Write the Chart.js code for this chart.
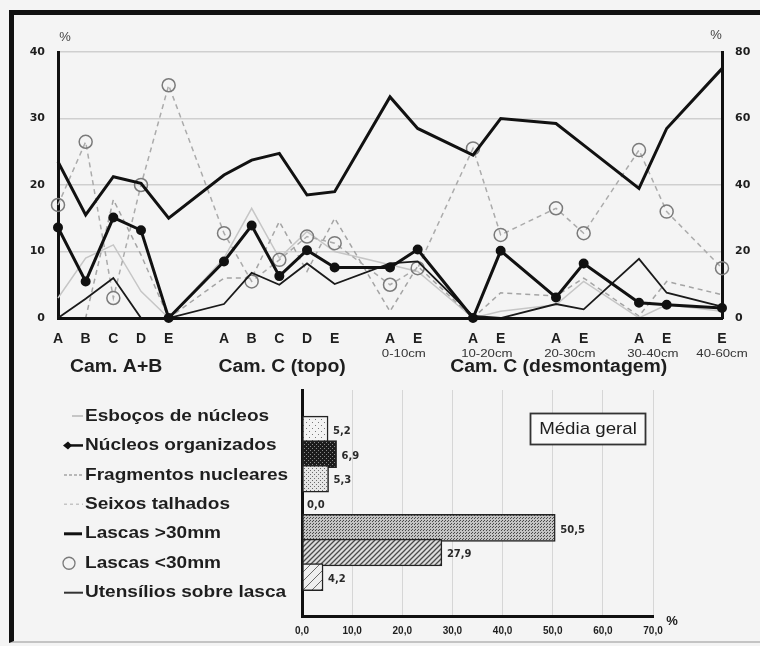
<!DOCTYPE html>
<html><head><meta charset="utf-8">
<script src="https://cdn.jsdelivr.net/npm/chart.js@4.4.1/dist/chart.umd.min.js"></script>
<style>
html,body{margin:0;padding:0;background:#f4f4f4;width:760px;height:646px;overflow:hidden;}
#frame{position:absolute;left:9px;top:10px;width:800px;height:626px;border-left:5px solid #111;border-top:5px solid #111;border-bottom:2px solid #c4c4c4;}
#c1{position:absolute;left:0;top:0;}
#c2{position:absolute;left:0;top:380px;}
</style></head><body>
<div id="frame"></div>
<canvas id="c1" width="760" height="380"></canvas>
<canvas id="c2" width="760" height="266"></canvas>
<script>
// ---------- data ----------
const categories = ['A','B','C','D','E','', 'A','B','C','D','E','', 'A','E','', 'A','E','', 'A','E','', 'A','E','', 'E'];
const groupLabels = ['Cam. A+B','Cam. C (topo)','Cam. C (desmontagem)'];
const groupPositions = [2.1, 8.1, 18.1];
const depthLabels = ['0-10cm','10-20cm','20-30cm','30-40cm','40-60cm'];
const depthPositions = [12.5, 15.5, 18.5, 21.5, 24];
const seriesNames = ['Esboços de núcleos','Núcleos organizados','Fragmentos nucleares','Seixos talhados','Lascas >30mm','Lascas <30mm','Utensílios sobre lasca'];
const esbocos    = [3, 9, 11, 4, 0, null, 9, 16.5, 9, 13, 10, null, 8, 7, null, 0, 1, null, 2, 5.5, null, 0, 2, null, 1];
const nucleos    = [13.6, 5.5, 15.1, 13.2, 0, null, 8.5, 13.9, 6.3, 10.2, 7.6, null, 7.6, 10.3, null, 0, 10.1, null, 3.1, 8.2, null, 2.3, 2.0, null, 1.5];
const fragmentos = [0, 0, 17.8, 9.5, 0, null, 6, 6, 14.5, 7, 15, null, 1, 7.8, null, 0, 3.8, null, 3.3, 6, null, 0.3, 5.5, null, 3.5];
const seixos     = [0, 0, 0, 0, 0, null, 0, 0, 0, 0, 0, null, 0, 0, null, 0, 0, null, 0, 0, null, 0, 0, null, 0];
const lascasMaior= [47, 31, 42.5, 40.5, 30, null, 43, 47.5, 49.5, 37, 38, null, 66.5, 57, null, 49, 60, null, 58.5, 52, null, 39, 57, null, 75];
const lascasMenor= [34, 53, 6, 40, 70, null, 25.5, 11, 17.5, 24.5, 22.5, null, 10, 15, null, 51, 25, null, 33, 25.5, null, 50.5, 32, null, 15];
const utensilios = [0, 2.9, 6.0, 0, 0, null, 2.1, 6.8, 5.0, 8.2, 5.1, null, 8.2, 8.5, null, 0.3, 0, null, 2.1, 1.3, null, 8.9, 3.8, null, 1.7];
const mediaGeral = [5.2, 6.9, 5.3, 0.0, 50.5, 27.9, 4.2];
const barTickLabels = ['0,0','10,0','20,0','30,0','40,0','50,0','60,0','70,0'];
const boxLabel = 'Média geral';

// ---------- helpers ----------
const SANS = '"Liberation Sans", Arial, sans-serif';
Chart.defaults.font.family = SANS;
function sText(ctx, t, x, y, sx, align){
  ctx.save(); ctx.translate(x, y); ctx.scale(sx, 1); ctx.textAlign = align; ctx.fillText(t, 0, 0); ctx.restore();
}
function makePattern(w, h, draw){
  const c = document.createElement('canvas'); c.width = w; c.height = h;
  const g = c.getContext('2d'); draw(g, w, h);
  return g.createPattern(c, 'repeat');
}
function dots(bg, fg, pts){ return (g,w,h)=>{ g.fillStyle=bg; g.fillRect(0,0,w,h); g.fillStyle=fg; pts.forEach(p=>g.fillRect(p[0],p[1],1,1)); }; }
function hatch(bg, fg, lw){ return (g,w,h)=>{ g.fillStyle=bg; g.fillRect(0,0,w,h); g.strokeStyle=fg; g.lineWidth=lw;
  g.beginPath(); g.moveTo(0,h); g.lineTo(w,0); g.moveTo(-1,1); g.lineTo(1,-1); g.moveTo(w-1,h+1); g.lineTo(w+1,h-1); g.stroke(); }; }

const barFills = [
  makePattern(6,6,dots('#f3f3f3','#7a7a7a',[[0,0],[3,3]])),
  makePattern(4,4,dots('#1c1c1c','#8a8a8a',[[0,0],[2,2]])),
  makePattern(4,4,dots('#e6e6e6','#6a6a6a',[[0,0],[2,2]])),
  'rgba(0,0,0,0)',
  makePattern(3,3,dots('#c4c4c4','#4a4a4a',[[0,0],[1,2]])),
  makePattern(5,5,hatch('#dcdcdc','#4a4a4a',1.3)),
  makePattern(9,9,hatch('#efefef','#6a6a6a',1))
];

// ---------- line chart ----------
const lineStyles = [
  {data: esbocos,    borderColor:'#c6c6c6', borderWidth:1.5, order:5},
  {data: nucleos,    borderColor:'#111', borderWidth:3, pointRadius:3.5, pointBackgroundColor:'#111', pointBorderColor:'#111', order:0},
  {data: fragmentos, borderColor:'#a4a4a4', borderWidth:1.5, borderDash:[5,4], order:4},
  {data: seixos,     borderColor:'#cccccc', borderWidth:1.5, borderDash:[4,4], order:6},
  {data: lascasMaior,borderColor:'#111', borderWidth:3, yAxisID:'y2', order:1},
  {data: lascasMenor,borderColor:'#ababab', borderWidth:1.5, borderDash:[5,4], yAxisID:'y2', pointRadius:6.5, pointBorderColor:'#7a7a7a', pointBorderWidth:1.5, pointBackgroundColor:'rgba(0,0,0,0)', order:3},
  {data: utensilios, borderColor:'#1a1a1a', borderWidth:1.8, order:2}
];
const lineDatasets = lineStyles.map((s,i)=>Object.assign({label: seriesNames[i], tension:0, spanGaps:true, pointRadius:0, clip:false, yAxisID:'y'}, s));

const lineText = {
  id:'lineText',
  afterDraw(chart){
    const ctx = chart.ctx, x = chart.scales.x, a = chart.chartArea;
    ctx.save();
    ctx.textBaseline = 'middle';
    ctx.fillStyle = '#1e1e1e';
    ctx.font = 'bold 18px ' + SANS;
    groupLabels.forEach((t,i)=>sText(ctx, t, x.getPixelForValue(groupPositions[i]), 367, 1.08, 'center'));
    ctx.fillStyle = '#333';
    ctx.font = '11px ' + SANS;
    depthLabels.forEach((t,i)=>sText(ctx, t, x.getPixelForValue(depthPositions[i]), 354, 1.2, 'center'));
    ctx.fillStyle = '#444';
    ctx.font = '13px ' + SANS;
    sText(ctx, '%', a.left + 7, 37, 1, 'center');
    sText(ctx, '%', a.right - 6, 35, 1, 'center');
    ctx.restore();
  }
};

new Chart(document.getElementById('c1'), {
  type:'line',
  data:{labels: categories, datasets: lineDatasets},
  options:{
    responsive:false, animation:false, devicePixelRatio:1,
    layout:{padding:{top:52,left:0,right:0,bottom:0}},
    plugins:{legend:{display:false}, tooltip:{enabled:false}},
    scales:{
      x:{type:'category', offset:false,
         grid:{display:false, drawTicks:false},
         border:{color:'#111', width:3, z:1},
         ticks:{autoSkip:false, maxRotation:0, padding:13, color:'#1e1e1e', font:{size:14, weight:'bold'}},
         afterFit(s){ s.height = 62; }},
      y:{position:'left', min:0, max:40,
         grid:{color:'#cfcfcf', lineWidth:1.5, drawTicks:false},
         border:{color:'#111', width:3},
         ticks:{stepSize:10, padding:13, color:'#1e1e1e', font:{size:11, weight:'bold', family:'"DejaVu Sans", sans-serif'}},
         afterFit(s){ s.width = 58; }},
      y2:{position:'right', min:0, max:80,
         grid:{display:false, drawTicks:false},
         border:{color:'#111', width:3},
         ticks:{stepSize:20, padding:13, color:'#1e1e1e', font:{size:11, weight:'bold', family:'"DejaVu Sans", sans-serif'}},
         afterFit(s){ s.width = 38; }}
    }
  },
  plugins:[lineText]
});

// ---------- bar chart (Média geral) ----------
const swatches = [
  (c,y)=>{ c.strokeStyle='#c6c6c6'; c.lineWidth=2; c.beginPath(); c.moveTo(72,y); c.lineTo(83,y); c.stroke(); },
  (c,y)=>{ c.strokeStyle='#111'; c.lineWidth=2.5; c.beginPath(); c.moveTo(66,y); c.lineTo(83,y); c.stroke();
           c.fillStyle='#111'; c.beginPath(); c.moveTo(63,y); c.lineTo(68,y-4); c.lineTo(72,y); c.lineTo(68,y+4); c.closePath(); c.fill(); },
  (c,y)=>{ c.strokeStyle='#a4a4a4'; c.lineWidth=1.5; c.setLineDash([3,2]); c.beginPath(); c.moveTo(64,y); c.lineTo(83,y); c.stroke(); c.setLineDash([]); },
  (c,y)=>{ c.strokeStyle='#c4c4c4'; c.lineWidth=1.5; c.setLineDash([3,3]); c.beginPath(); c.moveTo(64,y); c.lineTo(83,y); c.stroke(); c.setLineDash([]); },
  (c,y)=>{ c.strokeStyle='#111'; c.lineWidth=3; c.beginPath(); c.moveTo(64,y); c.lineTo(82,y); c.stroke(); },
  (c,y)=>{ c.strokeStyle='#7a7a7a'; c.lineWidth=1.3; c.beginPath(); c.arc(69,y,6,0,Math.PI*2); c.stroke(); },
  (c,y)=>{ c.strokeStyle='#333'; c.lineWidth=2; c.beginPath(); c.moveTo(64,y); c.lineTo(83,y); c.stroke(); }
];

const barText = {
  id:'barText',
  afterDatasetsDraw(chart){
    const ctx = chart.ctx;
    ctx.save();
    ctx.fillStyle = '#2a2a2a';
    ctx.textBaseline = 'middle';
    ctx.textAlign = 'left';
    ctx.font = 'bold 10px "DejaVu Sans", sans-serif';
    chart.getDatasetMeta(0).data.forEach((bar,i)=>{
      ctx.fillText(mediaGeral[i].toFixed(1).replace('.', ','), bar.x + 5, bar.y + 2);
    });
    ctx.restore();
  },
  afterDraw(chart){
    const ctx = chart.ctx, a = chart.chartArea;
    ctx.save();
    ctx.textBaseline = 'middle';
    ctx.font = 'bold 17px ' + SANS;
    seriesNames.forEach((t,i)=>{
      const y = 36 + i*29.45;
      swatches[i](ctx, y);
      ctx.fillStyle = '#1e1e1e';
      sText(ctx, t, 85, y, 1.12, 'left');
    });
    ctx.fillStyle = '#f9f9f9';
    ctx.fillRect(530, 33, 115, 31);
    ctx.strokeStyle = '#333'; ctx.lineWidth = 1.8;
    ctx.strokeRect(530.5, 33.5, 115, 31);
    ctx.fillStyle = '#1e1e1e';
    ctx.font = '17px ' + SANS;
    sText(ctx, boxLabel, 588, 49, 1.1, 'center');
    ctx.font = 'bold 13px ' + SANS;
    sText(ctx, '%', a.right + 19, 241, 1, 'center');
    ctx.restore();
  }
};

new Chart(document.getElementById('c2'), {
  type:'bar',
  data:{datasets:[{
    label: boxLabel,
    data: mediaGeral.map((v,i)=>({x:v, y:i})),
    backgroundColor: barFills,
    borderColor:'#222', borderWidth:1.5, borderSkipped:false,
    barThickness:27
  }]},
  options:{
    indexAxis:'y',
    responsive:false, animation:false, devicePixelRatio:1,
    layout:{padding:{top:10,left:0,right:107,bottom:0}},
    plugins:{legend:{display:false}, tooltip:{enabled:false}},
    scales:{
      y:{type:'linear', min:-1.1, max:7.1, reverse:true,
         grid:{display:false, drawTicks:false},
         border:{color:'#111', width:3},
         ticks:{display:false},
         afterFit(s){ s.width = 302; }},
      x:{type:'linear', min:0, max:70,
         grid:{color:'#d6d6d6', lineWidth:1, drawTicks:false},
         border:{color:'#111', width:3},
         ticks:{stepSize:10, padding:9, color:'#1e1e1e', font:{size:10, weight:'bold'},
                callback:(v,i)=>barTickLabels[i]},
         afterFit(s){ s.height = 29.3; }}
    }
  },
  plugins:[barText]
});
</script></body></html>
